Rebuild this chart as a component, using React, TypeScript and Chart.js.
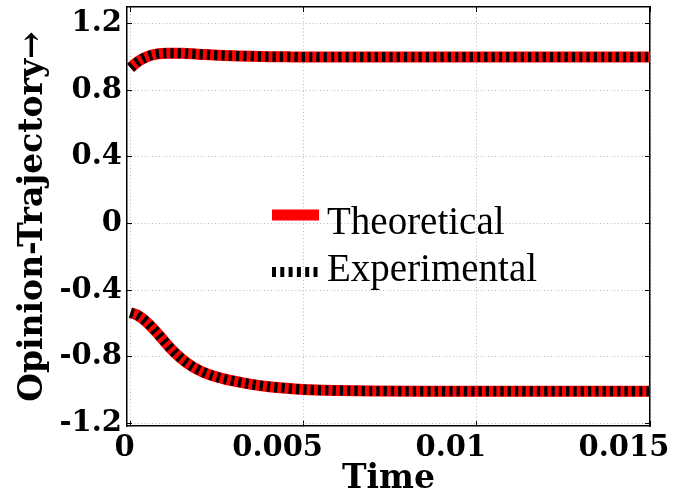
import React, { useEffect, useRef } from "react";
import { Chart, registerables } from "chart.js";

Chart.register(...registerables);

// ---- data ----
const timeValues = [0, 0.00015, 0.0003, 0.00045, 0.0006, 0.00075, 0.0009, 0.00105, 0.0012, 0.0015, 0.0018, 0.0021, 0.0024, 0.0027, 0.003, 0.0035, 0.004, 0.0045, 0.005, 0.006, 0.007, 0.009, 0.012, 0.015];
const theoreticalUpper = [0.935, 0.962, 0.984, 0.999, 1.01, 1.017, 1.021, 1.023, 1.023, 1.022, 1.019, 1.015, 1.012, 1.009, 1.007, 1.004, 1.002, 1.001, 1.0, 1.0, 1.0, 1.0, 1.0, 1.0];
const theoreticalLower = [-0.535, -0.545, -0.563, -0.588, -0.618, -0.652, -0.688, -0.724, -0.758, -0.816, -0.86, -0.892, -0.915, -0.932, -0.946, -0.965, -0.979, -0.989, -0.996, -1.002, -1.005, -1.006, -1.006, -1.006];
const experimentalUpper = [0.935, 0.962, 0.984, 0.999, 1.01, 1.017, 1.021, 1.023, 1.023, 1.022, 1.019, 1.015, 1.012, 1.009, 1.007, 1.004, 1.002, 1.001, 1.0, 1.0, 1.0, 1.0, 1.0, 1.0];
const experimentalLower = [-0.535, -0.545, -0.563, -0.588, -0.618, -0.652, -0.688, -0.724, -0.758, -0.816, -0.86, -0.892, -0.915, -0.932, -0.946, -0.965, -0.979, -0.989, -0.996, -1.002, -1.005, -1.006, -1.006, -1.006];

const xTicks = [0, 0.005, 0.01, 0.015];
const xTickLabels = ["0", "0.005", "0.01", "0.015"];
const yTicks = [-1.2, -0.8, -0.4, 0, 0.4, 0.8, 1.2];
const yTickLabels = ["-1.2", "-0.8", "-0.4", "0", "0.4", "0.8", "1.2"];

const toPoints = (ys: number[]) => timeValues.map((t, i) => ({ x: t, y: ys[i] }));

const TICK_FONT = { family: "DejaVu Serif", weight: "bold" as const, size: 29 };
const TITLE_FONT = { family: "DejaVu Serif", weight: "bold" as const, size: 33, lineHeight: 1 };

const legendPlugin = {
  id: "insideLegend",
  afterDraw(chart: any) {
    const ctx = chart.ctx;
    const seen = new Set<string>();
    const items = chart.data.datasets.filter((d: any) => {
      if (seen.has(d.label)) return false;
      seen.add(d.label);
      return true;
    });
    const sampleX0 = 272;
    const sampleX1 = 319;
    const textX = 327;
    const sampleY = [215, 272];
    const baseY = [234, 281];
    ctx.save();
    items.forEach((d: any, i: number) => {
      ctx.beginPath();
      ctx.strokeStyle = d.borderColor;
      ctx.lineWidth = d.borderWidth;
      ctx.lineCap = "butt";
      ctx.setLineDash(d.borderDash && d.borderDash.length ? [4, 4.3] : []);
      ctx.moveTo(sampleX0, sampleY[i]);
      ctx.lineTo(sampleX1, sampleY[i]);
      ctx.stroke();
      ctx.setLineDash([]);
      ctx.fillStyle = "#000";
      ctx.font = "39px 'Liberation Serif'";
      ctx.textAlign = "left";
      ctx.textBaseline = "alphabetic";
      ctx.fillText(d.label, textX, baseY[i]);
    });
    ctx.restore();
  },
};

export default function App() {
  const ref = useRef<HTMLCanvasElement | null>(null);
  useEffect(() => {
    if (!ref.current) return;
    const gridCommon = {
      color: "#b8b8b8",
      lineWidth: 1,
      drawTicks: true,
      tickLength: -5,
      tickColor: "#000",
      tickWidth: 1,
      tickBorderDash: [],
    };
    const borderCommon = { display: true, color: "#000", width: 1.5, dash: [1, 2.5] };
    const lineCommon = { pointRadius: 0, cubicInterpolationMode: "monotone", fill: false, borderCapStyle: "butt" };
    const chart = new Chart(ref.current, {
      type: "line",
      data: {
        datasets: [
          { label: "Theoretical", data: toPoints(theoreticalUpper), borderColor: "#ff0000", borderWidth: 11, order: 2, ...lineCommon },
          { label: "Theoretical", data: toPoints(theoreticalLower), borderColor: "#ff0000", borderWidth: 11, order: 2, ...lineCommon },
          { label: "Experimental", data: toPoints(experimentalUpper), borderColor: "#000000", borderWidth: 10, borderDash: [3.3, 4], order: 1, ...lineCommon },
          { label: "Experimental", data: toPoints(experimentalLower), borderColor: "#000000", borderWidth: 10, borderDash: [3.3, 4], order: 1, ...lineCommon },
        ],
      },
      options: {
        animation: false,
        responsive: false,
        events: [],
        layout: { padding: { left: 0, top: 7, right: 28, bottom: 0 } },
        plugins: { legend: { display: false }, tooltip: { enabled: false } },
        scales: {
          x: {
            type: "linear",
            position: "bottom",
            min: -0.0001,
            max: 0.015,
            afterBuildTicks: (s: any) => { s.ticks = xTicks.map((v) => ({ value: v })); },
            afterFit: (s: any) => { s.height = 70; s.paddingLeft = 0; s.paddingRight = 0; },
            ticks: {
              font: TICK_FONT,
              color: "#000",
              padding: 10,
              maxRotation: 0,
              autoSkip: false,
              labelOffset: -26,
              callback: (v: any) => {
                const i = xTicks.indexOf(v);
                const lbl = i >= 0 ? xTickLabels[i] : "";
                return i === 0 ? "    " + lbl : lbl;
              },
            },
            grid: gridCommon,
            border: borderCommon,
            title: { display: true, text: "Time", font: TITLE_FONT, color: "#000", padding: { top: 0, bottom: 0 } },
          },
          x2: {
            type: "linear",
            position: "top",
            min: -0.0001,
            max: 0.015,
            afterBuildTicks: (s: any) => { s.ticks = xTicks.map((v) => ({ value: v })); },
            afterFit: (s: any) => { s.height = 0; s.paddingLeft = 0; s.paddingRight = 0; },
            ticks: { display: false },
            grid: { ...gridCommon, drawOnChartArea: false },
            border: { display: true, color: "#000", width: 1.5 },
          },
          y: {
            type: "linear",
            position: "left",
            min: -1.215,
            max: 1.3,
            afterBuildTicks: (s: any) => { s.ticks = yTicks.map((v) => ({ value: v })); },
            afterFit: (s: any) => { s.width = 127; s.paddingTop = 0; s.paddingBottom = 0; },
            ticks: {
              font: TICK_FONT,
              color: "#000",
              padding: 10,
              autoSkip: false,
              callback: (v: any) => {
                const i = yTicks.indexOf(v);
                return i >= 0 ? yTickLabels[i] : "";
              },
            },
            grid: gridCommon,
            border: borderCommon,
            title: { display: true, text: "Opinion-Trajectory→", font: TITLE_FONT, color: "#000", padding: { top: 17, bottom: 0 } },
          },
          y2: {
            type: "linear",
            position: "right",
            min: -1.215,
            max: 1.3,
            afterBuildTicks: (s: any) => { s.ticks = yTicks.map((v) => ({ value: v })); },
            afterFit: (s: any) => { s.width = 0; s.paddingTop = 0; s.paddingBottom = 0; },
            ticks: { display: false },
            grid: { ...gridCommon, drawOnChartArea: false },
            border: { display: true, color: "#000", width: 1.5 },
          },
        },
      } as any,
      plugins: [legendPlugin],
    });
    return () => chart.destroy();
  }, []);
  return (
    <canvas
      ref={ref}
      width={678}
      height={496}
      style={{ position: "fixed", left: 0, top: 0, width: 678, height: 496, background: "#fff" }}
    />
  );
}
